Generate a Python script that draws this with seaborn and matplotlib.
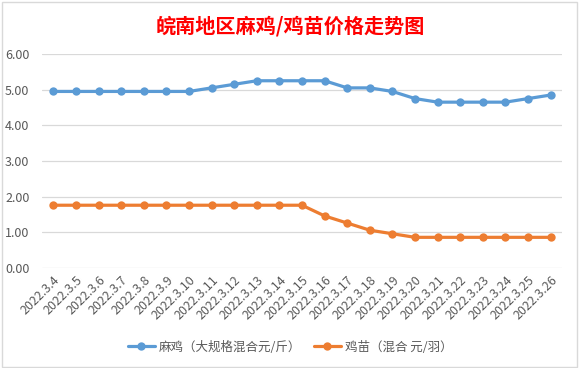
import pandas as pd
import matplotlib
matplotlib.use("Agg")
import matplotlib.pyplot as plt
import seaborn as sns
from matplotlib.lines import Line2D
from matplotlib.patches import Rectangle

# data
dates = ["2022.3.4", "2022.3.5", "2022.3.6", "2022.3.7", "2022.3.8", "2022.3.9",
         "2022.3.10", "2022.3.11", "2022.3.12", "2022.3.13", "2022.3.14", "2022.3.15",
         "2022.3.16", "2022.3.17", "2022.3.18", "2022.3.19", "2022.3.20", "2022.3.21",
         "2022.3.22", "2022.3.23", "2022.3.24", "2022.3.25", "2022.3.26"]
chicken = [4.95, 4.95, 4.95, 4.95, 4.95, 4.95, 4.95, 5.05, 5.15, 5.25, 5.25, 5.25,
           5.25, 5.05, 5.05, 4.95, 4.75, 4.65, 4.65, 4.65, 4.65, 4.75, 4.85]
chicks = [1.76, 1.76, 1.76, 1.76, 1.76, 1.76, 1.76, 1.76, 1.76, 1.76, 1.76, 1.76,
          1.46, 1.26, 1.06, 0.96, 0.86, 0.86, 0.86, 0.86, 0.86, 0.86, 0.86]
series_names = ["麻鸡（大规格混合元/斤）", "鸡苗（混合 元/羽）"]
colors = ["#5B9BD5", "#ED7D31"]

df = pd.DataFrame({
    "date": dates * 2,
    "price": chicken + chicks,
    "series": [series_names[0]] * len(dates) + [series_names[1]] * len(dates),
})

sns.set_theme(style="white")
plt.rcParams["font.family"] = ["Noto Sans CJK SC", "DejaVu Sans"]

fig = plt.figure(figsize=(5.8, 3.68), dpi=100)
ax = fig.add_axes([42 / 580, 1 - 268 / 368, 520 / 580, 214 / 368])

sns.lineplot(data=df, x="date", y="price", hue="series", palette=colors,
             marker="o", markersize=6, markeredgewidth=0, linewidth=2.3,
             sort=False, legend=False, ax=ax)

ax.set_xlim(-0.5, len(dates) - 0.5)
ax.set_ylim(0, 6)
ax.set_yticks([0, 1, 2, 3, 4, 5, 6])
ax.set_yticklabels([f"{v:.2f}" for v in range(7)])
ax.grid(axis="y", color="#D9D9D9", linewidth=0.9)
ax.set_axisbelow(True)
for s in ax.spines.values():
    s.set_visible(False)
ax.tick_params(axis="both", length=0, colors="#595959", labelsize=9)
ax.tick_params(axis="y", pad=9)
ax.tick_params(axis="x", pad=4)
plt.setp(ax.get_xticklabels(), rotation=45, ha="right", rotation_mode="anchor")
ax.set_xlabel("")
ax.set_ylabel("")

fig.text(0.5, 1 - 26 / 368, "皖南地区麻鸡/鸡苗价格走势图", color="red",
         fontsize=14.5, fontweight="bold", ha="center", va="center")

handles = [Line2D([], [], color=c, marker="o", markersize=6, markeredgewidth=0,
                  linewidth=2.3) for c in colors]
fig.legend(handles, series_names, loc="center", bbox_to_anchor=(0.5, 1 - 347 / 368),
           ncol=2, frameon=False, fontsize=9, handlelength=2.2, columnspacing=1.0,
           handletextpad=0.3, labelcolor="#595959")

fig.patches.append(Rectangle((0.004, 0.004), 0.99, 0.99, transform=fig.transFigure,
                             fill=False, edgecolor="#D9D9D9", linewidth=1))

fig.savefig("out.png", dpi=100)
